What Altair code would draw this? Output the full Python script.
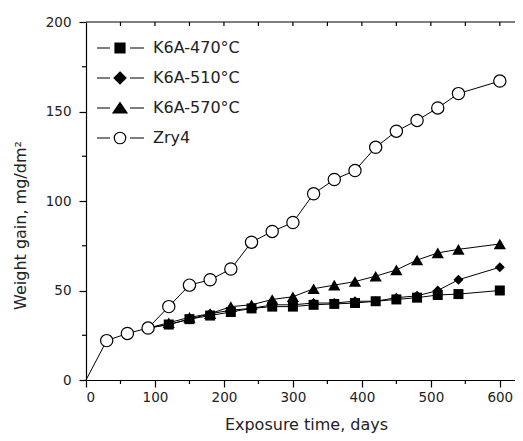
import altair as alt
import pandas as pd

# ---- data ----
series_names = ["K6A-470°C", "K6A-510°C", "K6A-570°C", "Zry4"]

days_zry = [0, 30, 60, 90, 120, 150, 180, 210, 240, 270, 300, 330, 360, 390, 420, 450, 480, 510, 540, 600]
zry4 = [0, 22, 26, 29, 41, 53, 56, 62, 77, 83, 88, 104, 112, 117, 130, 139, 145, 152, 160, 167]

days_k6a = [90, 120, 150, 180, 210, 240, 270, 300, 330, 360, 390, 420, 450, 480, 510, 540, 600]
k470 = [29, 31, 34, 36, 38, 40, 41, 41, 42, 42.5, 43, 44, 45, 46, 47.5, 48, 50]
k510 = [29, 31, 34, 37, 39, 40, 42, 42, 43, 43, 44, 44, 46, 47, 50, 56, 63]
k570 = [29, 32, 35, 37, 41, 42, 45, 46.5, 51, 53, 55, 58, 61.5, 67, 71, 73, 76]

x_major = [0, 100, 200, 300, 400, 500, 600]
x_minor = [50, 150, 250, 350, 450, 550]
x_top = [50, 100, 150, 200, 250, 300, 350, 400, 450, 500, 550, 600]
y_major = [0, 50, 100, 150, 200]
y_minor = [25, 75, 125, 175]

# ---- tables ----
rows = []
for d, v in zip(days_zry, zry4):
    rows.append({"day": d, "gain": v, "series": "Zry4"})
for name, vals in zip(series_names[:3], [k470, k510, k570]):
    for d, v in zip(days_k6a, vals):
        rows.append({"day": d, "gain": v, "series": name})
df = pd.DataFrame(rows)

W, H = 429, 358
FONT = "DejaVu Sans"
xs = alt.Scale(domain=[0, 622], nice=False)
ys = alt.Scale(domain=[0, 200], nice=False)

x_enc = alt.X("day:Q", scale=xs, axis=alt.Axis(
    values=x_major, tickSize=7, labelPadding=3, grid=False,
    domainColor="black", domainWidth=1.2, tickColor="black", tickWidth=1.2,
    labelFont=FONT, labelFontSize=13.5, labelColor="#222",
    title="Exposure time, days", titleFont=FONT, titleFontSize=16,
    titleFontWeight="normal", titleColor="#222",
    titleX=220, titleY=49, titleAlign="center", titleBaseline="alphabetic", titleAnchor="start"))
y_enc = alt.Y("gain:Q", scale=ys, axis=alt.Axis(
    values=y_major, tickSize=7, labelPadding=8, grid=False,
    domainColor="black", domainWidth=1.2, tickColor="black", tickWidth=1.2,
    labelFont=FONT, labelFontSize=13.5, labelColor="#222",
    title="Weight gain, mg/dm²", titleFont=FONT, titleFontSize=16,
    titleFontWeight="normal", titleColor="#222",
    titleX=-61, titleY=203, titleAngle=270, titleAlign="center",
    titleBaseline="alphabetic", titleAnchor="start"))

base = alt.Chart(df)

lines = base.mark_line(color="black", strokeWidth=1).encode(
    x=x_enc, y=y_enc, detail="series:N")

marker_shapes = {"K6A-470°C": ("square", 100), "K6A-510°C": ("diamond", 100), "K6A-570°C": ("triangle-up", 150)}
point_layers = []
for name, (shp, sz) in marker_shapes.items():
    point_layers.append(
        base.transform_filter((alt.datum.series == name) & (alt.datum.day >= 120))
        .mark_point(shape=shp, size=sz, filled=True, color="black", opacity=1)
        .encode(x=alt.X("day:Q", scale=xs), y=alt.Y("gain:Q", scale=ys)))

zry_pts = base.transform_filter((alt.datum.series == "Zry4") & (alt.datum.day > 0)).mark_point(
    shape="circle", size=150, filled=True, fill="white", stroke="black",
    strokeWidth=1.2, opacity=1).encode(
    x=alt.X("day:Q", scale=xs), y=alt.Y("gain:Q", scale=ys))

# legend symbols: line + marker
leg_paths = [
    "M-4.6,0H-2M2,0H4.8M-1,-1H1V1H-1Z",
    "M-4.6,0H-2M2,0H4.8M0,-1.2L1.2,0L0,1.2L-1.2,0Z",
    "M-4.6,0H-2M2,0H4.8M0,-1.1L1.4,1L-1.4,1Z",
    "M-4.6,0H-2M2,0H4.8M1.15,0A1.15,1.15,0,1,1,-1.15,0A1.15,1.15,0,1,1,1.15,0Z",
]
leg_fill = ["black", "black", "black", "white"]
leg_stroke = ["black", "black", "black", "black"]
leg_df = pd.DataFrame({"series": series_names, "day": [0] * 4, "gain": [0] * 4})
legend = alt.Legend(orient="none", legendX=26, legendY=18, title=None,
                    symbolSize=100, symbolStrokeColor="black", symbolStrokeWidth=1.2,
                    symbolOpacity=1, labelOffset=25, rowPadding=13, padding=0,
                    labelFont=FONT, labelFontSize=16, labelColor="#222")
leg_layer = alt.Chart(leg_df).mark_point(filled=True, strokeWidth=1.2, opacity=0).encode(
    x=alt.X("day:Q", scale=xs),
    y=alt.Y("gain:Q", scale=ys),
    shape=alt.Shape("series:N", scale=alt.Scale(domain=series_names, range=leg_paths), legend=legend),
    fill=alt.Fill("series:N", scale=alt.Scale(domain=series_names, range=leg_fill), legend=legend),
    stroke=alt.Stroke("series:N", scale=alt.Scale(domain=series_names, range=leg_stroke), legend=legend),
)

# frame and minor ticks
minor_x = alt.Chart(pd.DataFrame({"day": x_minor})).mark_rule(color="black", strokeWidth=1.2).encode(
    x=alt.X("day:Q", scale=xs), y=alt.value(H), y2=alt.value(H + 4))
top_ticks = alt.Chart(pd.DataFrame({"day": x_top})).mark_rule(color="black", strokeWidth=1.2).encode(
    x=alt.X("day:Q", scale=xs), y=alt.value(0), y2=alt.value(4))
minor_y = alt.Chart(pd.DataFrame({"gain": y_minor})).mark_rule(color="black", strokeWidth=1.2).encode(
    y=alt.Y("gain:Q", scale=ys), x=alt.value(-4), x2=alt.value(0))
top_line = alt.Chart(pd.DataFrame({"gain": [200]})).mark_rule(color="black", strokeWidth=1.2).encode(
    y=alt.Y("gain:Q", scale=ys), x=alt.value(0), x2=alt.value(W))

chart = alt.layer(lines, *point_layers, zry_pts, leg_layer, minor_x, top_ticks, minor_y, top_line).properties(
    width=W, height=H,
    padding={"left": 78, "top": 14, "right": 0, "bottom": 53},
    autosize=alt.AutoSizeParams(type="none"),
    background="white",
).configure_view(stroke=None)

chart.save("out.html", embed_options={"renderer": "svg", "actions": False})
